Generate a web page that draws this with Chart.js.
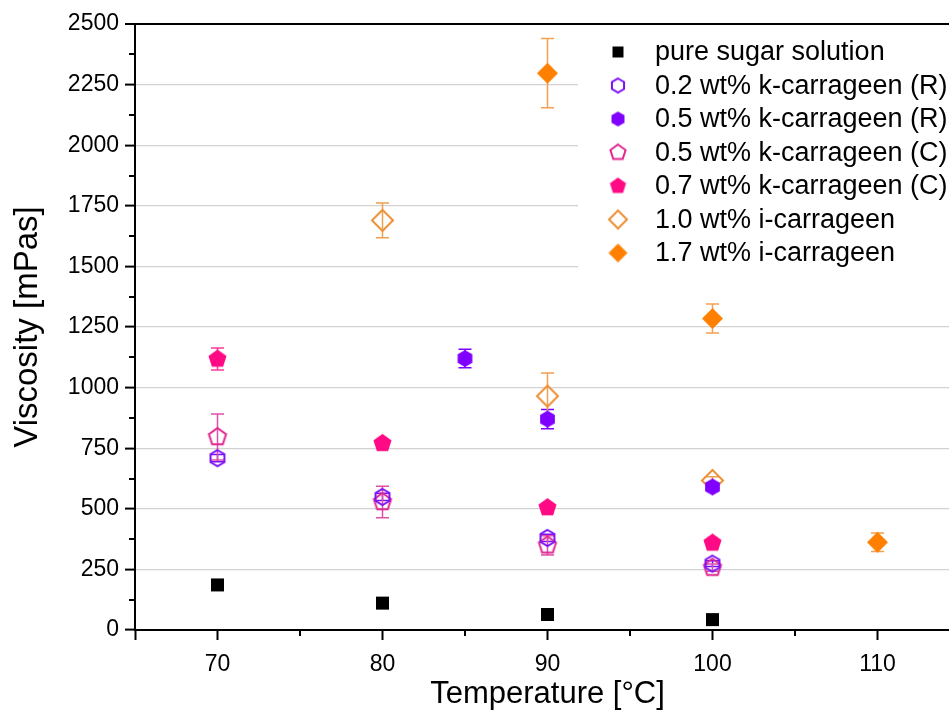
<!DOCTYPE html>
<html>
<head>
<meta charset="utf-8">
<script src="https://cdn.jsdelivr.net/npm/chart.js@4.4.1/dist/chart.umd.min.js"></script>
<style>
html,body{margin:0;padding:0;background:#fff;overflow:hidden;}
#wrap{width:976px;height:727px;}
</style>
</head>
<body>
<div id="wrap"><canvas id="c" width="976" height="727"></canvas></div>
<script>
// ---- data (temperature °C, viscosity mPas, error ±) ----
const xTickLabels = [70, 80, 90, 100, 110];
const yTickStep = 250;

const seriesNames = [
  'pure sugar solution',
  '0.2 wt% k-carrageen (R)',
  '0.5 wt% k-carrageen (R)',
  '0.5 wt% k-carrageen (C)',
  '0.7 wt% k-carrageen (C)',
  '1.0 wt% i-carrageen',
  '1.7 wt% i-carrageen'
];

const sugarT = [70, 80, 90, 100];
const sugarV = [186, 111, 64, 43];
const sugarE = [8, 6, 5, 4];

const k02RT = [70, 80, 90, 100];
const k02RV = [709, 549, 380, 274];
const k02RE = [15, 15, 15, 12];

const k05RT = [85, 90, 100];
const k05RV = [1120, 870, 590];
const k05RE = [38, 40, 15];

const k05CT = [70, 80, 90, 100];
const k05CV = [796, 528, 349, 257];
const k05CE = [95, 65, 40, 15];

const k07CT = [70, 80, 90, 100];
const k07CV = [1118, 770, 505, 359];
const k07CE = [45, 10, 10, 10];

const i10T = [80, 90, 100];
const i10V = [1690, 965, 617];
const i10E = [72, 95, 15];

const i17T = [90, 100, 110];
const i17V = [2297, 1285, 362];
const i17E = [143, 60, 38];

// ---- marker images ----
function marker(shape, r, color, filled, lw) {
  const pad = 3;
  const s = Math.ceil(2 * r + 2 * pad);
  const cv = document.createElement('canvas');
  cv.width = s; cv.height = s;
  const g = cv.getContext('2d');
  const cx = s / 2, cy = s / 2;
  g.beginPath();
  if (shape === 'square') {
    g.rect(cx - r, cy - r, 2 * r, 2 * r);
  } else {
    const n = shape === 'hex' ? 6 : shape === 'pent' ? 5 : 4;
    for (let k = 0; k < n; k++) {
      const a = -Math.PI / 2 + k * 2 * Math.PI / n;
      const px = cx + r * Math.cos(a), py = cy + r * Math.sin(a);
      if (k === 0) g.moveTo(px, py); else g.lineTo(px, py);
    }
    g.closePath();
  }
  if (filled) { g.fillStyle = color; g.fill(); }
  else { g.strokeStyle = color; g.lineWidth = lw || 2; g.lineJoin = 'miter'; g.stroke(); }
  return cv;
}

const styles = [
  {shape:'square', r:6.5, color:'#000000', filled:true, lr:5.5, err:'#000000'},
  {shape:'hex', r:8, color:'#7a10f5', filled:false, lr:7, err:'#7a10f5'},
  {shape:'hex', r:8.5, color:'#8000ff', filled:true, lr:7.5, err:'#8000ff'},
  {shape:'pent', r:9, color:'#e02690', filled:false, lr:8, err:'#e050a8'},
  {shape:'pent', r:9.5, color:'#ff0a84', filled:true, lr:8.5, err:'#ff3a9a'},
  {shape:'diamond', r:10.5, color:'#ee9035', filled:false, lr:9, err:'#efa050'},
  {shape:'diamond', r:10.5, color:'#ff8000', filled:true, lr:9.5, err:'#f5a050'}
];

const xs = [sugarT, k02RT, k05RT, k05CT, k07CT, i10T, i17T];
const vs = [sugarV, k02RV, k05RV, k05CV, k07CV, i10V, i17V];
const es = [sugarE, k02RE, k05RE, k05CE, k07CE, i10E, i17E];

const datasets = seriesNames.map((name, i) => ({
  label: name,
  data: xs[i].map((t, j) => ({x: t, y: vs[i][j]})),
  errors: es[i],
  errColor: styles[i].err,
  pointStyle: marker(styles[i].shape, styles[i].r, styles[i].color, styles[i].filled, 2),
  legendStyle: marker(styles[i].shape, styles[i].lr, styles[i].color, styles[i].filled, 2),
  pointRadius: styles[i].r,
  showLine: false,
  order: i
}));

const FONT = "'Liberation Sans', Arial, sans-serif";
Chart.defaults.font.family = FONT;
Chart.defaults.color = '#000';

const errorBars = {
  id: 'errorBars',
  beforeDatasetsDraw(chart) {
    const ctx = chart.ctx, ys = chart.scales.y, xsS = chart.scales.x;
    ctx.save();
    chart.data.datasets.forEach(ds => {
      ctx.strokeStyle = ds.errColor;
      ctx.lineWidth = 1.5;
      ds.data.forEach((p, j) => {
        const e = ds.errors[j];
        const px = xsS.getPixelForValue(p.x);
        const y1 = ys.getPixelForValue(p.y + e), y2 = ys.getPixelForValue(p.y - e);
        ctx.beginPath();
        ctx.moveTo(px, y1); ctx.lineTo(px, y2);
        ctx.moveTo(px - 6.5, y1); ctx.lineTo(px + 6.5, y1);
        ctx.moveTo(px - 6.5, y2); ctx.lineTo(px + 6.5, y2);
        ctx.stroke();
      });
    });
    ctx.restore();
  }
};

const extras = {
  id: 'extras',
  afterDraw(chart) {
    const ctx = chart.ctx, ys = chart.scales.y, xsS = chart.scales.x, a = chart.chartArea;
    ctx.save();
    // minor ticks
    ctx.strokeStyle = '#000'; ctx.lineWidth = 2;
    ctx.beginPath();
    for (let v = yTickStep / 2; v < 2500; v += yTickStep) {
      const py = Math.round(ys.getPixelForValue(v));
      ctx.moveTo(a.left - 6, py); ctx.lineTo(a.left, py);
    }
    for (let v = 75; v < 115; v += 10) {
      const px = Math.round(xsS.getPixelForValue(v));
      ctx.moveTo(px, a.bottom); ctx.lineTo(px, a.bottom + 6);
    }
    ctx.stroke();
    // legend
    ctx.fillStyle = '#fff';
    ctx.fillRect(578, 27, 400, 246);
    ctx.font = '27px ' + FONT;
    ctx.textBaseline = 'middle';
    ctx.textAlign = 'left';
    ctx.fillStyle = '#000';
    chart.data.datasets.forEach((ds, i) => {
      const ry = 52 + i * 33.5;
      const img = ds.legendStyle;
      ctx.drawImage(img, 618 - img.width / 2, ry - img.height / 2);
      ctx.fillText(ds.label, 655, ry + 1);
    });
    ctx.restore();
  }
};

new Chart(document.getElementById('c'), {
  type: 'scatter',
  data: {datasets},
  options: {
    responsive: false,
    animation: false,
    events: [],
    devicePixelRatio: 1,
    layout: {padding: {top: 24, right: 16, left: 0, bottom: 0}},
    plugins: {legend: {display: false}, tooltip: {enabled: false}},
    scales: {
      x: {
        type: 'linear', min: 65, max: 115,
        afterBuildTicks(scale) {
          scale.ticks = [65].concat(xTickLabels, [115]).map(v => ({value: v}));
        },
        afterFit(scale) { scale.height = 97; },
        ticks: {
          font: {size: 23},
          padding: 11,
          callback: v => xTickLabels.includes(v) ? String(v) : ''
        },
        grid: {drawOnChartArea: false, drawTicks: true, tickLength: 10, tickColor: '#000', tickWidth: 2},
        border: {color: '#000', width: 2},
        title: {display: true, text: 'Temperature [°C]', font: {size: 31}, padding: {top: 0, bottom: 14}}
      },
      y: {
        type: 'linear', min: 0, max: 2500,
        afterFit(scale) { scale.width = 135; },
        ticks: {stepSize: yTickStep, font: {size: 23}, padding: 6, callback: v => String(v)},
        grid: {
          color: c => (c.tick && c.tick.value === 2500) ? '#000' : (c.tick && c.tick.value === 0 ? 'rgba(0,0,0,0)' : '#d2d2d2'),
          lineWidth: c => (c.tick && c.tick.value === 2500) ? 2 : 1.2,
          tickLength: 10, tickColor: '#000', tickWidth: 2
        },
        border: {color: '#000', width: 2},
        title: {display: true, text: 'Viscosity [mPas]', font: {size: 33}, padding: {top: 8, bottom: 0}}
      }
    }
  },
  plugins: [errorBars, extras]
});
</script>
</body>
</html>
